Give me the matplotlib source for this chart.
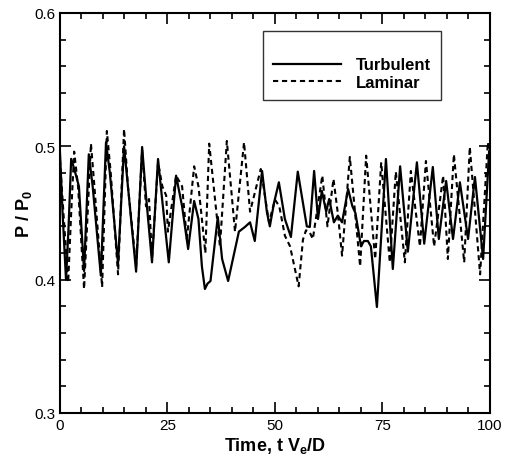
import matplotlib.pyplot as plt
import numpy as np

plt.rcParams['font.family'] = ['Liberation Sans', 'DejaVu Sans']
plt.rcParams['mathtext.fontset'] = 'custom'
plt.rcParams['mathtext.rm'] = 'Liberation Sans:bold'
plt.rcParams['mathtext.bf'] = 'Liberation Sans:bold'
plt.rcParams['mathtext.it'] = 'Liberation Sans:bold'

# turbulent inflow
t_turb = np.array([0, 0.6, 1.4, 2.0, 2.6, 3.4, 4.4, 5.6, 6.7, 7.6, 9.5, 10.7, 11.6, 13.5,
                   14.9, 15.8, 17.7, 19.1, 20.0, 21.4, 22.8, 23.6, 25.3, 27.0, 28.4, 29.8,
                   31.2, 32.2, 33.0, 33.7, 34.3, 35.0, 36.7, 37.7, 39.1, 41.6, 43.0, 44.2,
                   45.3, 47.0, 48.1, 48.8, 49.8, 50.9, 52.3, 53.7, 55.3, 57.4, 58.1, 59.1,
                   60.0, 60.9, 61.9, 62.6, 63.7, 64.6, 65.6, 67.0, 68.0, 68.7, 70.0, 70.7,
                   71.6, 72.3, 73.7, 75.8, 77.4, 79.1, 80.9, 83.0, 84.7, 86.7, 88.1, 89.8,
                   91.4, 93.0, 94.9, 96.5, 98.4, 99.8, 100])
p_turb = np.array([0.495, 0.45, 0.400, 0.44, 0.4906, 0.482, 0.470, 0.4065, 0.494, 0.47,
                   0.403, 0.503, 0.48, 0.412, 0.500, 0.47, 0.406, 0.4995, 0.463, 0.413,
                   0.4905, 0.465, 0.413, 0.478, 0.455, 0.423, 0.459, 0.4455, 0.41, 0.393,
                   0.397, 0.399, 0.447, 0.4155, 0.399, 0.436, 0.4395, 0.443, 0.429, 0.4815,
                   0.451, 0.440, 0.458, 0.473, 0.4455, 0.432, 0.481, 0.440, 0.4395, 0.4815,
                   0.4455, 0.4665, 0.451, 0.4605, 0.443, 0.448, 0.443, 0.468, 0.455, 0.450,
                   0.425, 0.429, 0.429, 0.425, 0.3795, 0.4905, 0.408, 0.485, 0.421, 0.488,
                   0.427, 0.4845, 0.4305, 0.474, 0.4305, 0.473, 0.4305, 0.477, 0.4155,
                   0.4965, 0.49])

# laminar inflow
t_lam = np.array([0, 0.8, 1.9, 2.6, 3.3, 4.2, 5.6, 7.2, 8.0, 9.8, 10.9, 11.8, 13.5, 14.9,
                  15.8, 17.7, 19.1, 20.0, 20.7, 21.4, 22.8, 23.8, 24.7, 25.1, 27.0, 28.4,
                  29.5, 31.2, 32.2, 33.0, 33.8, 34.7, 37.2, 38.8, 40.7, 42.8, 44.2, 46.7,
                  48.6, 50.0, 51.0, 52.3, 53.5, 55.5, 56.5, 57.2, 58.0, 58.8, 61.0, 62.2,
                  63.6, 64.6, 65.6, 67.4, 69.8, 71.2, 73.3, 74.7, 76.7, 78.1, 80.2, 81.6,
                  83.7, 85.1, 87.0, 89.1, 90.2, 91.6, 94.0, 95.3, 97.7, 99.5, 100])
p_lam = np.array([0.49, 0.45, 0.398, 0.45, 0.496, 0.47, 0.393, 0.502, 0.47, 0.3945, 0.5115,
                  0.48, 0.404, 0.513, 0.47, 0.41, 0.497, 0.455, 0.4605, 0.416, 0.488, 0.47,
                  0.463, 0.436, 0.478, 0.470, 0.4305, 0.485, 0.470, 0.4455, 0.42, 0.502,
                  0.425, 0.504, 0.436, 0.503, 0.451, 0.483, 0.443, 0.460, 0.455, 0.433,
                  0.425, 0.395, 0.43, 0.437, 0.436, 0.4305, 0.478, 0.44, 0.4755, 0.45,
                  0.418, 0.492, 0.410, 0.493, 0.4155, 0.488, 0.413, 0.481, 0.413, 0.4815,
                  0.425, 0.489, 0.425, 0.478, 0.4155, 0.494, 0.413, 0.4995, 0.404, 0.503,
                  0.49])

fig = plt.figure(figsize=(5.11, 4.6), dpi=100)
ax = fig.add_axes([0.1174, 0.1, 0.8415, 0.8696])

ax.plot(t_turb, p_turb, color='black', lw=1.6, label='Turbulent')
ax.plot(t_lam, p_lam, color='black', lw=1.5, ls=(0, (2.5, 1.8)), label='Laminar')

ax.set_xlim(0, 100)
ax.set_ylim(0.3, 0.6)
ax.set_xticks([0, 25, 50, 75, 100])
ax.set_xticks(np.arange(0, 101, 5), minor=True)
ax.set_yticks([0.3, 0.4, 0.5, 0.6])
ax.set_yticks(np.arange(0.3, 0.601, 0.02), minor=True)
ax.set_yticklabels(['0.3', '0.4', '0.5', '0.6'])
ax.tick_params(which='both', direction='in', top=True, right=True, labelsize=11, width=1.2)
ax.tick_params(which='major', length=8)
ax.tick_params(which='minor', length=4)
for s in ax.spines.values():
    s.set_linewidth(1.5)

ax.set_xlabel('Time, t V$_e$/D', fontsize=13, fontweight='bold', labelpad=2)
ax.set_ylabel('P / P$_0$', fontsize=13, fontweight='bold', labelpad=0)

leg = ax.legend(loc='upper left', bbox_to_anchor=(0.472, 0.955), borderaxespad=0,
                frameon=True, fancybox=False, edgecolor='black', handlelength=4.1,
                handletextpad=0.9, borderpad=0.6, labelspacing=0.15, title=' ',
                title_fontsize=11, prop={'weight': 'bold', 'size': 12})
leg.get_frame().set_linewidth(1.0)

plt.savefig('out.png', dpi=100)
